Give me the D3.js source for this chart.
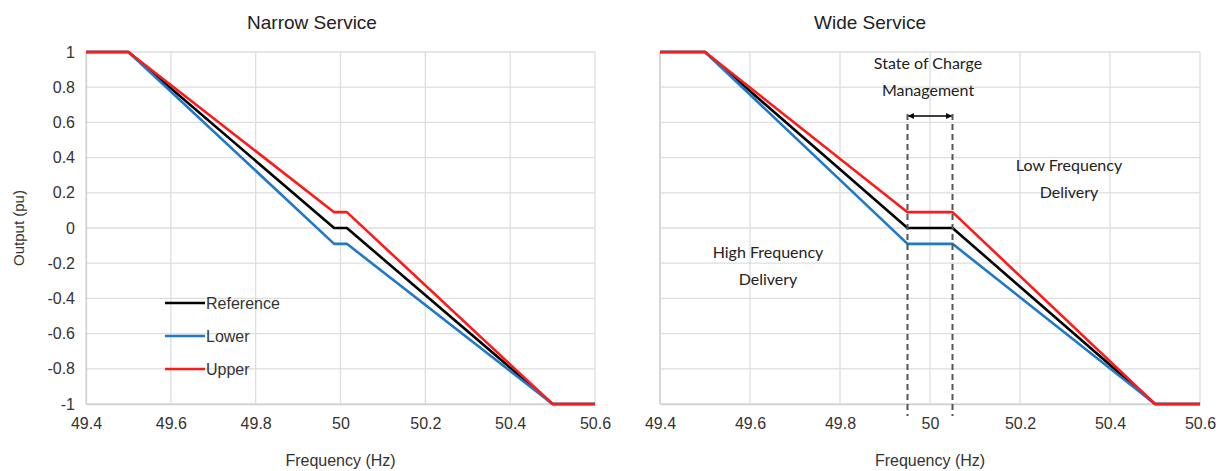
<!DOCTYPE html>
<html lang="en">
	<head>
		<meta charset="utf-8">
		<title>Narrow and Wide Service</title>
		<script src="https://d3js.org/d3.v7.min.js"></script>
		<style type="text/css">
			body { margin: 0; background: #fff; }
			text { font-family: "Liberation Sans", Arial, sans-serif; }
			.note { font-family: Lato, "Open Sans", sans-serif; }
		</style>
	</head>
	<body>
		<script type="text/javascript">

			//Width and height
			var w = 1228;
			var h = 471;

			//Data
			var freqTicks = [49.4, 49.6, 49.8, 50, 50.2, 50.4, 50.6];
			var outTicks = [-1, -0.8, -0.6, -0.4, -0.2, 0, 0.2, 0.4, 0.6, 0.8, 1];

			var narrowFreq = [49.4, 49.5, 49.985, 50.015, 50.5, 50.6];
			var narrowRef = [1, 1, 0, 0, -1, -1];
			var narrowLower = [1, 1, -0.09, -0.09, -1, -1];
			var narrowUpper = [1, 1, 0.09, 0.09, -1, -1];

			var wideFreq = [49.4, 49.5, 49.95, 50.05, 50.5, 50.6];
			var wideRef = [1, 1, 0, 0, -1, -1];
			var wideLower = [1, 1, -0.09, -0.09, -1, -1];
			var wideUpper = [1, 1, 0.09, 0.09, -1, -1];

			var seriesNames = ["Reference", "Lower", "Upper"];
			var seriesColors = ["#000000", "#1f78c8", "#ff1a1a"];

			var socBand = [49.95, 50.05];

			var svg = d3.select("body")
						.append("svg")
						.attr("width", w)
						.attr("height", h);

			svg.append("rect").attr("width", w).attr("height", h).attr("fill", "#fff");

			function panel(opts) {
				var x = d3.scaleLinear().domain([49.4, 50.6]).range([opts.x0, opts.x1]);
				var y = d3.scaleLinear().domain([-1, 1]).range([404, 52]);
				var g = svg.append("g");

				//grid
				g.selectAll(".vgrid").data(freqTicks).enter().append("line")
					.attr("x1", function(d){ return x(d); }).attr("x2", function(d){ return x(d); })
					.attr("y1", y(1)).attr("y2", y(-1))
					.attr("stroke", "#dedede").attr("stroke-width", 1.3);
				g.selectAll(".hgrid").data(outTicks).enter().append("line")
					.attr("x1", x(49.4)).attr("x2", x(50.6))
					.attr("y1", function(d){ return y(d); }).attr("y2", function(d){ return y(d); })
					.attr("stroke", "#dedede").attr("stroke-width", 1.3);

				//x axis
				var xa = g.append("g").attr("transform", "translate(0," + y(-1) + ")")
					.call(d3.axisBottom(x).tickValues(freqTicks).tickSize(0).tickPadding(14)
						.tickFormat(function(d){ return String(d); }));
				xa.select(".domain").attr("stroke", "#d0d0d0").attr("stroke-width", 1.3);
				xa.selectAll("text").attr("font-size", 16).attr("fill", "#333")
					.attr("font-family", "Liberation Sans, Arial, sans-serif");

				if (opts.yLabels) {
					var ya = g.append("g").attr("transform", "translate(" + x(49.4) + ",0)")
						.call(d3.axisLeft(y).tickValues(outTicks).tickSize(0).tickPadding(11)
							.tickFormat(function(d){ return String(+d.toFixed(1)); }));
					ya.select(".domain").attr("stroke", "#d0d0d0").attr("stroke-width", 1.3);
					ya.selectAll("text").attr("font-size", 16).attr("fill", "#333")
						.attr("font-family", "Liberation Sans, Arial, sans-serif");
					g.append("text").attr("transform", "translate(24," + y(0) + ") rotate(-90)")
						.attr("text-anchor", "middle").attr("font-size", 15).attr("fill", "#333")
						.text("Output (pu)");
				} else {
					g.append("line").attr("x1", x(49.4)).attr("x2", x(49.4))
						.attr("y1", y(1)).attr("y2", y(-1))
						.attr("stroke", "#d0d0d0").attr("stroke-width", 1.3);
				}

				g.append("text").attr("x", x(50)).attr("y", 466)
					.attr("text-anchor", "middle").attr("font-size", 16).attr("fill", "#333")
					.text("Frequency (Hz)");
				g.append("text").attr("x", opts.titleX).attr("y", 29)
					.attr("text-anchor", "middle").attr("font-size", 19).attr("fill", "#222")
					.text(opts.title);

				var line = d3.line()
					.x(function(d){ return x(d[0]); })
					.y(function(d){ return y(d[1]); });

				var series = [opts.ref, opts.lower, opts.upper];
				series.forEach(function(vals, i) {
					var pts = opts.freq.map(function(f, j){ return [f, vals[j]]; });
					g.append("path").datum(pts).attr("d", line)
						.attr("fill", "none").attr("stroke", seriesColors[i])
						.attr("stroke-width", 2.6).attr("stroke-linejoin", "round");
				});
				return {x: x, y: y, g: g};
			}

			var left = panel({x0: 86, x1: 595, yLabels: true, title: "Narrow Service", titleX: 312,
				freq: narrowFreq, ref: narrowRef, lower: narrowLower, upper: narrowUpper});
			var right = panel({x0: 660, x1: 1200, yLabels: false, title: "Wide Service", titleX: 870,
				freq: wideFreq, ref: wideRef, lower: wideLower, upper: wideUpper});

			//legend
			seriesNames.forEach(function(name, i) {
				var ly = 303 + i * 33;
				left.g.append("line").attr("x1", 165).attr("x2", 205).attr("y1", ly).attr("y2", ly)
					.attr("stroke", seriesColors[i]).attr("stroke-width", 2.6);
				left.g.append("text").attr("x", 206).attr("y", ly + 6)
					.attr("font-size", 16).attr("fill", "#333").text(name);
			});

			//state of charge annotation
			var rx = right.x;
			socBand.forEach(function(f) {
				right.g.append("line").attr("x1", rx(f)).attr("x2", rx(f))
					.attr("y1", 114).attr("y2", 416)
					.attr("stroke", "#555").attr("stroke-width", 2).attr("stroke-dasharray", "6,4");
			});
			var defs = svg.append("defs");
			defs.append("marker").attr("id", "ah").attr("viewBox", "0 0 10 10")
				.attr("refX", 9).attr("refY", 5).attr("markerWidth", 4).attr("markerHeight", 4)
				.attr("orient", "auto-start-reverse")
				.append("path").attr("d", "M0,0L10,5L0,10z").attr("fill", "#000");
			right.g.append("line").attr("x1", rx(socBand[0]) + 1).attr("x2", rx(socBand[1]) - 1)
				.attr("y1", 116).attr("y2", 116)
				.attr("stroke", "#000").attr("stroke-width", 1.5)
				.attr("marker-start", "url(#ah)").attr("marker-end", "url(#ah)");

			function note(lines, cx, y0) {
				lines.forEach(function(t, i) {
					right.g.append("text").attr("class", "note").attr("x", cx).attr("y", y0 + i * 27)
						.attr("text-anchor", "middle").attr("font-size", 16).attr("fill", "#222").text(t);
				});
			}
			note(["State of Charge", "Management"], 928, 69);
			note(["Low Frequency", "Delivery"], 1069, 171);
			note(["High Frequency", "Delivery"], 768, 258);

		</script>
	</body>
</html>
